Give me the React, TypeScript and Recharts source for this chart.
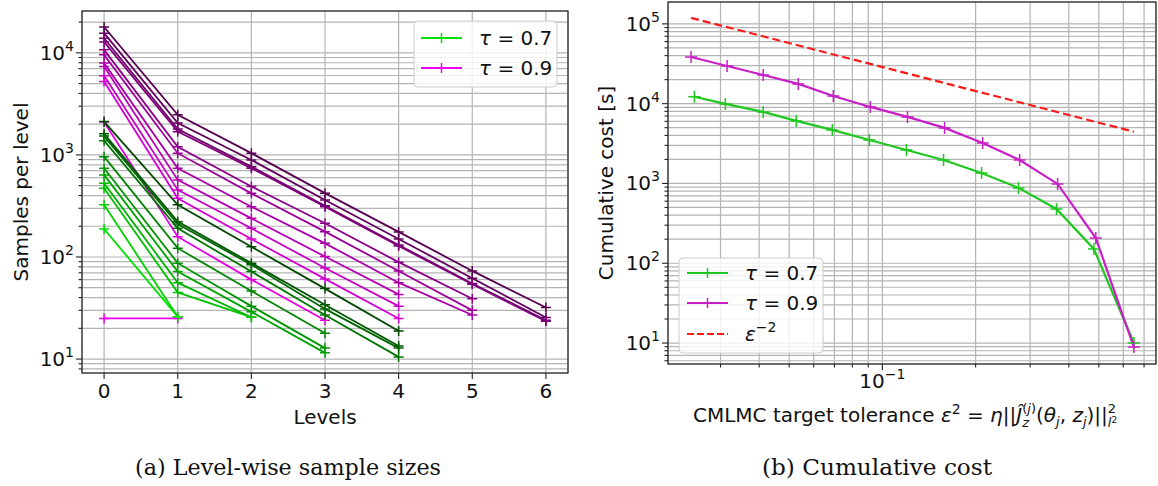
import React from 'react';
import { LineChart, Line, XAxis, YAxis, CartesianGrid } from 'recharts';

const FONT = '"DejaVu Sans", sans-serif';

// (a) samples per level, one row per tolerance, smallest tolerance (darkest) first
const levels = [0, 1, 2, 3, 4, 5, 6];

const samplesTau07 = [
  [2120, 324, 126, 49, 18.8],
  [1610, 222, 87, 34, 13.4],
  [1530, 210, 84, 31, 12.8],
  [1380, 191, 72, 27, 10.5],
  [962, 122, 46.5, 17.9],
  [741, 87, 33, 12.8],
  [637, 72, 29, 11.5],
  [527, 56, 25.7],
  [471, 45, 25.7],
  [324, 26],
  [188, 26],
];

const samplesTau09 = [
  [17900, 2470, 1040, 422, 176, 73, 32],
  [15600, 2050, 893, 362, 150, 62, 25.5],
  [13900, 1790, 767, 318, 131, 55, 24],
  [12800, 1690, 741, 311, 128, 54, 23.5],
  [10700, 1200, 490, 214, 89, 39],
  [9560, 1040, 420, 177, 73, 30],
  [7930, 741, 311, 136, 56, 27],
  [7350, 569, 239, 101, 43],
  [5960, 454, 191, 78, 33],
  [5250, 376, 150, 61, 25],
  [2100, 158, 60, 24],
  [25, 25],
];

// (b) cumulative cost vs. target tolerance
const epsTau07 = [0.0247, 0.0311, 0.0412, 0.0527, 0.0689, 0.0908, 0.1196, 0.1576, 0.209, 0.2752, 0.365, 0.482, 0.649];
const costTau07 = [12200, 9930, 7880, 6080, 4690, 3510, 2630, 1970, 1350, 880, 479, 151, 10];
const epsTau09 = [0.0241, 0.0315, 0.0412, 0.0535, 0.0694, 0.0914, 0.1205, 0.1588, 0.2108, 0.2775, 0.368, 0.489, 0.649];
const costTau09 = [38500, 29700, 22900, 17700, 12500, 9100, 6830, 4970, 3220, 1970, 986, 207, 8.9];
const refEps = [0.0241, 0.649];
const refCost = [119000, 4450];

const levelTicks = [0, 1, 2, 3, 4, 5, 6];

const logTicks = (lo: number, hi: number) => {
  const out: number[] = [];
  for (let e = -3; e <= 6; e++) {
    for (let m = 1; m <= 9; m++) {
      const v = +(m * Math.pow(10, e)).toPrecision(3);
      if (v >= lo && v <= hi) out.push(v);
    }
  }
  return out;
};

const leftYTicks = logTicks(7.3, 25700);
const rightYTicks = logTicks(5.46, 188000);
const rightXTicks = logTicks(0.0203, 0.765);

const isPow10 = (v: number) => Math.abs(Math.log10(v) - Math.round(Math.log10(v))) < 1e-6;
const expLabel = (v: number) => String(Math.round(Math.log10(v))).replace('-', '\u2212');

const GREEN_DARK = [0, 72, 0];
const GREEN_LIGHT = [0, 225, 0];
const MAG_DARK = [85, 0, 80];
const MAG_LIGHT = [240, 0, 240];
const mix = (a: number[], b: number[], t: number) =>
  `rgb(${a.map((v, i) => Math.round(v + (b[i] - v) * t)).join(',')})`;

const GREEN = '#1ec81e';
const MAGENTA = '#c81ec8';
const RED = '#ff1a1a';

const plusDot = (color: string, r: number, w: number) => (p: any) => {
  if (p.cx == null || p.cy == null) return <g key={p.index} />;
  return (
    <path
      key={p.index}
      d={`M${p.cx - r},${p.cy}H${p.cx + r}M${p.cx},${p.cy - r}V${p.cy + r}`}
      stroke={color}
      strokeWidth={w}
      fill="none"
    />
  );
};

const LogYTick = (props: any) => {
  const { x, y, payload } = props;
  const major = isPow10(payload.value);
  return (
    <g>
      <line x1={x - (major ? 6 : 3.5)} x2={x} y1={y} y2={y} stroke="#222" strokeWidth={1.1} />
      {major && (
        <text x={x - 8} y={y + 7} textAnchor="end" fontSize={20} fontFamily={FONT} fill="#111">
          10<tspan dy={-9} fontSize={14}>{expLabel(payload.value)}</tspan>
        </text>
      )}
    </g>
  );
};

const LevelTick = (props: any) => {
  const { x, y, payload } = props;
  return (
    <g>
      <line x1={x} x2={x} y1={y} y2={y + 6} stroke="#222" strokeWidth={1.1} />
      <text x={x} y={y + 25} textAnchor="middle" fontSize={20} fontFamily={FONT} fill="#111">
        {payload.value}
      </text>
    </g>
  );
};

const EpsTick = (props: any) => {
  const { x, y, payload } = props;
  const major = isPow10(payload.value);
  return (
    <g>
      <line x1={x} x2={x} y1={y} y2={y + (major ? 6 : 3.5)} stroke="#222" strokeWidth={1.1} />
      {major && (
        <text x={x} y={y + 24} textAnchor="middle" fontSize={20} fontFamily={FONT} fill="#111">
          10<tspan dy={-9} fontSize={14}>{expLabel(payload.value)}</tspan>
        </text>
      )}
    </g>
  );
};

const LegendRow = ({ x, y, color, dashed, children }: any) => (
  <g>
    <line x1={x} x2={x + 41} y1={y} y2={y} stroke={color} strokeWidth={2} strokeDasharray={dashed ? '7 3' : undefined} />
    {!dashed && <path d={`M${x + 20.5},${y - 5}V${y + 5}`} stroke={color} strokeWidth={1.5} />}
    <text x={x + 58} y={y + 7} fontSize={20} fontFamily={FONT} fill="#111">
      {children}
    </text>
  </g>
);

export default function App() {
  const nG = samplesTau07.length;
  const nM = samplesTau09.length;
  return (
    <div style={{ position: 'absolute', left: 0, top: 0, width: 1158, height: 486, background: '#fff', fontFamily: FONT }}>
      <div style={{ position: 'absolute', left: 0, top: 0 }}>
        <LineChart width={580} height={420} margin={{ top: 11, right: 12, bottom: 0, left: 0 }}>
          <CartesianGrid stroke="#b4b4b4" strokeWidth={1.2} />
          <XAxis
            dataKey="level"
            type="number"
            domain={[-0.3, 6.3]}
            allowDataOverflow
            ticks={levelTicks}
            interval={0}
            height={47}
            tickSize={0}
            tickMargin={0}
            tickLine={false}
            axisLine={false}
            tick={<LevelTick />}
          />
          <YAxis
            type="number"
            scale="log"
            domain={[7.3, 25700]}
            allowDataOverflow
            ticks={leftYTicks}
            interval={0}
            width={82}
            tickSize={0}
            tickMargin={0}
            tickLine={false}
            axisLine={false}
            tick={<LogYTick />}
          />
          {samplesTau09.map((row, k) => {
            const c = mix(MAG_DARK, MAG_LIGHT, k / (nM - 1));
            return (
              <Line
                key={'m' + k}
                data={row.map((n, i) => ({ level: levels[i], n }))}
                dataKey="n"
                stroke={c}
                strokeWidth={1.8}
                dot={plusDot(c, 5, 1.5)}
                activeDot={false}
                isAnimationActive={false}
              />
            );
          })}
          {samplesTau07.map((row, k) => {
            const c = mix(GREEN_DARK, GREEN_LIGHT, k / (nG - 1));
            return (
              <Line
                key={'g' + k}
                data={row.map((n, i) => ({ level: levels[i], n }))}
                dataKey="n"
                stroke={c}
                strokeWidth={1.8}
                dot={plusDot(c, 5, 1.5)}
                activeDot={false}
                isAnimationActive={false}
              />
            );
          })}
        </LineChart>
      </div>

      <div style={{ position: 'absolute', left: 580, top: 0 }}>
        <LineChart width={578} height={430} margin={{ top: 2, right: 2, bottom: 0, left: 0 }}>
          <CartesianGrid stroke="#b4b4b4" strokeWidth={1.2} />
          <XAxis
            dataKey="eps"
            type="number"
            scale="log"
            domain={[0.0203, 0.765]}
            allowDataOverflow
            ticks={rightXTicks}
            interval={0}
            height={66}
            tickSize={0}
            tickMargin={0}
            tickLine={false}
            axisLine={false}
            tick={<EpsTick />}
          />
          <YAxis
            type="number"
            scale="log"
            domain={[5.46, 188000]}
            allowDataOverflow
            ticks={rightYTicks}
            interval={0}
            width={88}
            tickSize={0}
            tickMargin={0}
            tickLine={false}
            axisLine={false}
            tick={<LogYTick />}
          />
          <Line
            data={epsTau07.map((e, i) => ({ eps: e, cost: costTau07[i] }))}
            dataKey="cost"
            stroke={GREEN}
            strokeWidth={2.2}
            dot={plusDot(GREEN, 6, 1.5)}
            activeDot={false}
            isAnimationActive={false}
          />
          <Line
            data={epsTau09.map((e, i) => ({ eps: e, cost: costTau09[i] }))}
            dataKey="cost"
            stroke={MAGENTA}
            strokeWidth={2.2}
            dot={plusDot(MAGENTA, 6, 1.5)}
            activeDot={false}
            isAnimationActive={false}
          />
          <Line
            data={refEps.map((e, i) => ({ eps: e, cost: refCost[i] }))}
            dataKey="cost"
            stroke={RED}
            strokeWidth={2.2}
            strokeDasharray="8 4"
            dot={false}
            activeDot={false}
            isAnimationActive={false}
          />
        </LineChart>
      </div>

      <svg width={1158} height={486} style={{ position: 'absolute', left: 0, top: 0, pointerEvents: 'none' }}>
        {/* axes frames */}
        <rect x={82} y={11} width={486} height={362} fill="none" stroke="#222" strokeWidth={1.2} />
        <rect x={668} y={2} width={488} height={362} fill="none" stroke="#222" strokeWidth={1.2} />

        {/* legend (a) */}
        <rect x={414} y={21} width={143} height={66} rx={4} fill="#fff" fillOpacity={0.8} stroke="#cccccc" />
        <LegendRow x={421} y={38} color={mix(GREEN_DARK, GREEN_LIGHT, 1)}>
          <tspan fontStyle="italic">τ</tspan> = 0.7
        </LegendRow>
        <LegendRow x={421} y={68} color={mix(MAG_DARK, MAG_LIGHT, 1)}>
          <tspan fontStyle="italic">τ</tspan> = 0.9
        </LegendRow>

        {/* legend (b) */}
        <rect x={679} y={258} width={144} height={95} rx={4} fill="#fff" fillOpacity={0.8} stroke="#cccccc" />
        <LegendRow x={687} y={273} color={GREEN}>
          <tspan fontStyle="italic">τ</tspan> = 0.7
        </LegendRow>
        <LegendRow x={687} y={303} color={MAGENTA}>
          <tspan fontStyle="italic">τ</tspan> = 0.9
        </LegendRow>
        <LegendRow x={687} y={334} color={RED} dashed>
          <tspan fontStyle="italic">ε</tspan>
          <tspan dy={-9} fontSize={14}>−2</tspan>
        </LegendRow>

        {/* axis labels */}
        <text x={325} y={424} textAnchor="middle" fontSize={20} fontFamily={FONT} fill="#111">Levels</text>
        <text x={28} y={192} transform="rotate(-90 28 192)" textAnchor="middle" fontSize={20} fontFamily={FONT} fill="#111">
          Samples per level
        </text>
        <text x={613} y={183} transform="rotate(-90 613 183)" textAnchor="middle" fontSize={20} fontFamily={FONT} fill="#111">
          Cumulative cost [s]
        </text>
        <text x={693} y={422} fontSize={20} fontFamily={FONT} fill="#111">
          CMLMC target tolerance <tspan fontStyle="italic">ε</tspan>
          <tspan dy={-8} fontSize={14}>2</tspan>
          <tspan dy={8}> = </tspan>
          <tspan fontStyle="italic">η</tspan>
          <tspan>||</tspan>
          <tspan fontStyle="italic">Ĵ</tspan>
          <tspan dy={-9} fontSize={13}>(</tspan>
          <tspan fontSize={13} fontStyle="italic">j</tspan>
          <tspan fontSize={13}>)</tspan>
          <tspan dx={-13.7} dy={14} fontSize={13} fontStyle="italic">z</tspan>
          <tspan dx={6.9} dy={-5}>(</tspan>
          <tspan fontStyle="italic">θ</tspan>
          <tspan dy={4} fontSize={13} fontStyle="italic">j</tspan>
          <tspan dy={-4}>, </tspan>
          <tspan fontStyle="italic">z</tspan>
          <tspan dy={4} fontSize={13} fontStyle="italic">j</tspan>
          <tspan dy={-4}>)||</tspan>
          <tspan dy={-9} fontSize={13}>2</tspan>
          <tspan dx={-8.3} dy={14} fontSize={13} fontStyle="italic">l</tspan>
          <tspan dy={-4} fontSize={9}>2</tspan>
        </text>

        {/* sub-captions */}
        <text x={288} y={475} textAnchor="middle" fontSize={23} fontFamily='"DejaVu Serif", serif' fill="#111" textLength={306} lengthAdjust="spacingAndGlyphs">
          (a) Level-wise sample sizes
        </text>
        <text x={877} y={475} textAnchor="middle" fontSize={23} fontFamily='"DejaVu Serif", serif' fill="#111" textLength={230} lengthAdjust="spacingAndGlyphs">
          (b) Cumulative cost
        </text>
      </svg>
    </div>
  );
}
